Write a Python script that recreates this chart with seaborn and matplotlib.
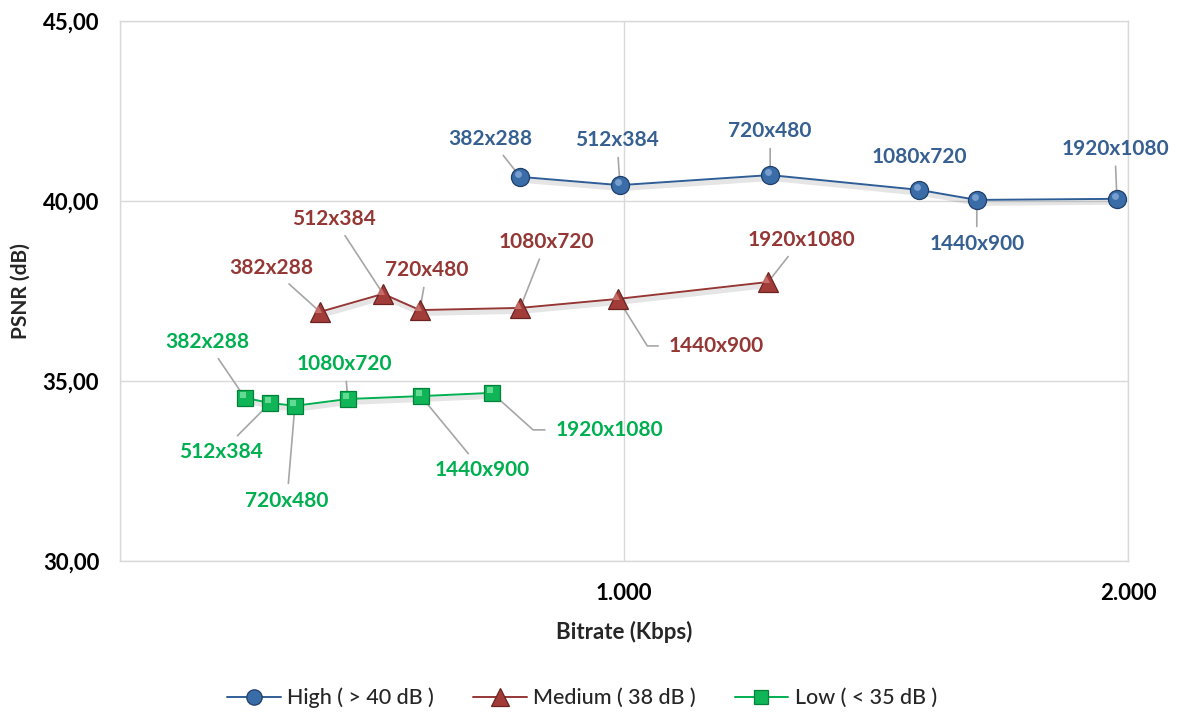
import numpy as np
import pandas as pd
import matplotlib
matplotlib.use("Agg")
import matplotlib.pyplot as plt
from matplotlib.transforms import ScaledTranslation
import seaborn as sns

# ---- data -------------------------------------------------------------
resolutions = ["382x288", "512x384", "720x480", "1080x720", "1440x900", "1920x1080"]

high_kbps = [794, 992, 1290, 1585, 1700, 1978]
high_psnr = [40.67, 40.44, 40.72, 40.31, 40.03, 40.06]

med_kbps = [397, 522, 595, 794, 988, 1286]
med_psnr = [36.92, 37.42, 36.97, 37.03, 37.28, 37.75]

low_kbps = [248, 298, 347, 452, 597, 738]
low_psnr = [34.53, 34.39, 34.31, 34.50, 34.58, 34.67]

series_names = ["High ( > 40 dB )", "Medium ( 38 dB )", "Low ( < 35 dB )"]

y_ticks = [30, 35, 40, 45]
x_ticks = [0, 1000, 2000]
x_tick_labels = ["", "1.000", "2.000"]

# ---- styling ----------------------------------------------------------
sns.set_theme(style="white")
plt.rcParams["font.family"] = ["Lato", "DejaVu Sans"]

line_colors = ["#2F5E97", "#953735", "#00B050"]
text_colors = ["#376092", "#953735", "#00B050"]
edge_colors = ["#1E3F6A", "#6A2321", "#00813A"]
face_colors = ["#3A6CA8", "#A23C39", "#10B558"]
glint_colors = ["#8DB0DC", "#D47E7A", "#7FE7A6"]
markers = ["o", "^", "s"]
marker_sizes = [13, 14.5, 12]
grid_col = "#D9D9D9"
leader_col = "#A6A6A6"

# label offsets (pixels, relative to the point) and leader type
label_offsets = [
    [(-30, 38), (-3, 45), (0, 44), (0, 33), (0, -44), (-2, 50)],
    [(-49, 44), (-49, 75), (7, 40), (26, 66), (98, -47), (33, 42)],
    [(-38, 56), (-49, -49), (-8, -95), (-3, 35), (61, -74), (117, -37)],
]
leader_kind = [
    ["line", "line", "line", "none", "line", "line"],
    ["line", "line", "line", "line", "elbow", "line"],
    ["line", "line", "line", "line", "line", "elbow"],
]
elbow_angles = {(1, 4): -58, (2, 5): -42}

frames = []
for name, xs, ys in zip(series_names,
                        [high_kbps, med_kbps, low_kbps],
                        [high_psnr, med_psnr, low_psnr]):
    frames.append(pd.DataFrame({"Bitrate": xs, "PSNR": ys,
                                "Resolution": resolutions, "Series": name}))
df = pd.concat(frames, ignore_index=True)

fig = plt.figure(figsize=(11.84, 7.16), dpi=100)
ax = fig.add_axes([120 / 1184, (716 - 561) / 716, 1008 / 1184, 540 / 716])

shadow_tr = ax.transData + ScaledTranslation(1.0 / 72, -2.5 / 72, fig.dpi_scale_trans)
glint_tr = ax.transData + ScaledTranslation(-1.5 / 72, 2.0 / 72, fig.dpi_scale_trans)

for i, name in enumerate(series_names):
    sub = df[df["Series"] == name]
    # soft drop shadow under the series line
    ax.plot(sub["Bitrate"], sub["PSNR"], color="#000000", alpha=0.10, lw=3.5,
            transform=shadow_tr, zorder=2, solid_capstyle="round")
    sns.lineplot(data=sub, x="Bitrate", y="PSNR", ax=ax, sort=False,
                 color=line_colors[i], lw=1.4, marker=markers[i],
                 markersize=marker_sizes[i], markerfacecolor=face_colors[i],
                 markeredgecolor=edge_colors[i], markeredgewidth=0.9,
                 label=name, zorder=4)
    # small highlight on each marker for a glossy look
    ax.plot(sub["Bitrate"], sub["PSNR"], ls="none", marker=markers[i],
            markersize=marker_sizes[i] * 0.38, color=glint_colors[i],
            alpha=0.75, transform=glint_tr, zorder=5, markeredgewidth=0)

    for j, (x, y, lab) in enumerate(zip(sub["Bitrate"], sub["PSNR"], sub["Resolution"])):
        kind = leader_kind[i][j]
        if kind == "none":
            arrow = None
        elif kind == "elbow":
            arrow = dict(arrowstyle="-", color=leader_col, lw=1.2, shrinkA=5, shrinkB=2,
                         connectionstyle=f"angle,angleA=0,angleB={elbow_angles[(i, j)]},rad=0")
        else:
            arrow = dict(arrowstyle="-", color=leader_col, lw=1.2, shrinkA=3, shrinkB=2)
        ax.annotate(lab, xy=(x, y), xytext=label_offsets[i][j],
                    textcoords="offset pixels", ha="center", va="center",
                    fontsize=15, fontweight="bold", color=text_colors[i],
                    arrowprops=arrow, zorder=3)

# axes
ax.set_xlim(0, 2000)
ax.set_ylim(30, 45)
ax.set_xticks(x_ticks)
ax.set_xticklabels(x_tick_labels)
ax.set_yticks(y_ticks)
ax.set_yticklabels([f"{v:.2f}".replace(".", ",") for v in y_ticks])
ax.grid(True, color=grid_col, lw=1.0)
ax.set_axisbelow(True)
for sp in ax.spines.values():
    sp.set_color(grid_col)
    sp.set_linewidth(1.0)
ax.tick_params(axis="both", length=0, labelsize=16, colors="#000000")
ax.tick_params(axis="y", pad=15)
ax.tick_params(axis="x", pad=16)
for t in ax.get_xticklabels() + ax.get_yticklabels():
    t.set_fontweight("bold")

ax.set_xlabel("Bitrate (Kbps)", fontsize=16, fontweight="bold", labelpad=12)
ax.set_ylabel("PSNR (dB)", fontsize=15, fontweight="bold", labelpad=9)

if ax.get_legend():
    ax.get_legend().remove()
handles, labels = ax.get_legend_handles_labels()
fig.legend(handles[:3], labels[:3], loc="center", bbox_to_anchor=(582 / 1184, 1 - 698 / 716),
           ncol=3, frameon=False, handlelength=2.5, columnspacing=1.8,
           handletextpad=0.3, markerscale=0.85, prop={"weight": "medium", "size": 15.5})

fig.savefig("out.png", dpi=100, facecolor="white")
